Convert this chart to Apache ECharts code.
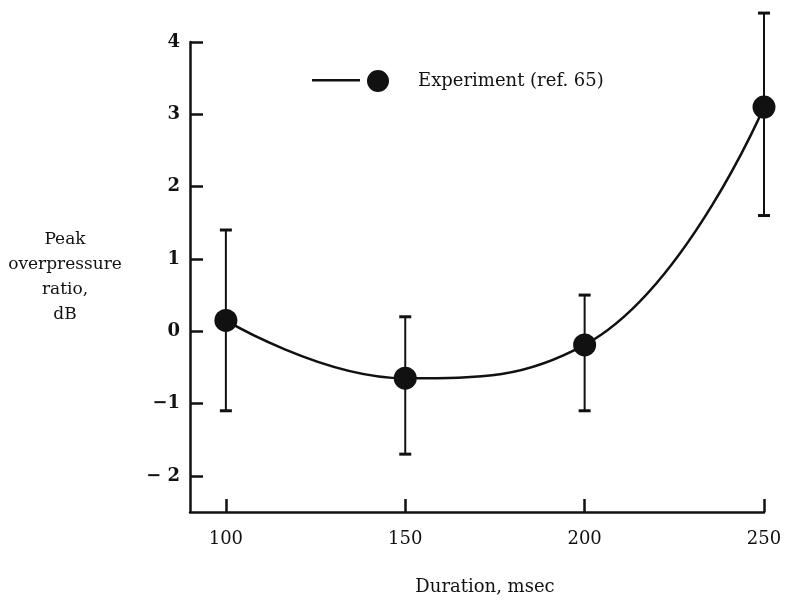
<!DOCTYPE html>
<html>
<head>
<meta charset="utf-8">
<script src="https://cdn.jsdelivr.net/npm/echarts@6/dist/echarts.min.js"></script>
<style>
  html, body { margin: 0; padding: 0; background: #fff; }
  #chart { width: 785px; height: 601px; }
</style>
</head>
<body>
<div id="chart"></div>
<script>
// Pulse duration (msec) and the measured peak overpressure ratio (dB)
const durations = [100, 150, 200, 250];
const ratioDb = [0.15, -0.65, -0.19, 3.1];
const ratioLow = [-1.1, -1.7, -1.1, 1.6];
const ratioHigh = [1.4, 0.2, 0.5, 4.4];

const xTicks = [100, 150, 200, 250];
const yTicks = [-2, -1, 0, 1, 2, 3, 4];
const yTickLabels = ['\u2212 2', '\u22121', '0', '1', '2', '3', '4'];

const seriesName = 'Experiment (ref. 65)';
const serif = 'DejaVu Serif';
const ink = '#111';

const pointData = durations.map((d, i) => [d, ratioDb[i]]);
const barData = durations.map((d, i) => [d, ratioLow[i], ratioHigh[i]]);

const chart = echarts.init(document.getElementById('chart'), null, { renderer: 'canvas' });

chart.setOption({
  animation: false,
  backgroundColor: '#fff',
  grid: { left: 190, right: 21, top: 42, bottom: 86, containLabel: false },
  legend: {
    left: 312,
    top: 70,
    padding: 0,
    data: [{
      name: seriesName,
      icon: 'path://M0,9 L48,9 L48,11.5 L0,11.5 Z M55,11 a11,11 0 1,0 22,0 a11,11 0 1,0 -22,0 Z'
    }],
    itemWidth: 77,
    itemHeight: 22,
    textStyle: { fontFamily: serif, fontSize: 18, color: ink, padding: [0, 0, 0, 24] }
  },
  xAxis: {
    type: 'value',
    min: 90,
    max: 250,
    name: 'Duration, msec',
    nameLocation: 'middle',
    nameGap: 66,
    nameTextStyle: { fontFamily: serif, fontSize: 18, color: ink, padding: [0, 0, 0, 16] },
    splitLine: { show: false },
    axisLine: { show: true, onZero: false, lineStyle: { color: ink, width: 2.5 } },
    axisTick: { show: true, inside: true, length: 13, customValues: xTicks, lineStyle: { color: ink, width: 2.5 } },
    axisLabel: {
      customValues: xTicks, margin: 18,
      fontFamily: serif, fontSize: 18, color: ink
    }
  },
  yAxis: {
    type: 'value',
    min: -2.5,
    max: 4,
    name: 'Peak\noverpressure\nratio,\ndB',
    nameLocation: 'middle',
    nameRotate: 0,
    nameGap: 125,
    nameTextStyle: {
      fontFamily: serif, fontSize: 17, color: ink, align: 'center',
      verticalAlign: 'middle', lineHeight: 25
    },
    splitLine: { show: false },
    axisLine: { show: true, onZero: false, lineStyle: { color: ink, width: 2.5 } },
    axisTick: { show: true, inside: true, length: 13, customValues: yTicks, lineStyle: { color: ink, width: 2.5 } },
    axisLabel: {
      customValues: yTicks, margin: 10,
      fontFamily: serif, fontSize: 18, fontWeight: 'bold', color: ink,
      formatter: (v) => yTickLabels[yTicks.indexOf(Math.round(v))] ?? ''
    }
  },
  series: [
    {
      name: seriesName,
      type: 'line',
      data: pointData,
      smooth: 0.45,
      symbol: 'circle',
      symbolSize: 23,
      itemStyle: { color: ink },
      lineStyle: { color: ink, width: 2.5 },
      z: 3
    },
    {
      name: 'error',
      type: 'custom',
      data: barData,
      z: 4,
      renderItem: (params, api) => {
        const x = api.value(0);
        const top = api.coord([x, api.value(2)]);
        const bottom = api.coord([x, api.value(1)]);
        const half = 6;
        const style = { stroke: ink, lineWidth: 2 };
        const capStyle = { stroke: ink, lineWidth: 3 };
        return {
          type: 'group',
          children: [
            { type: 'line', shape: { x1: top[0], y1: top[1], x2: bottom[0], y2: bottom[1] }, style },
            { type: 'line', shape: { x1: top[0] - half, y1: top[1], x2: top[0] + half, y2: top[1] }, style: capStyle },
            { type: 'line', shape: { x1: bottom[0] - half, y1: bottom[1], x2: bottom[0] + half, y2: bottom[1] }, style: capStyle }
          ]
        };
      }
    }
  ]
});
</script>
</body>
</html>
